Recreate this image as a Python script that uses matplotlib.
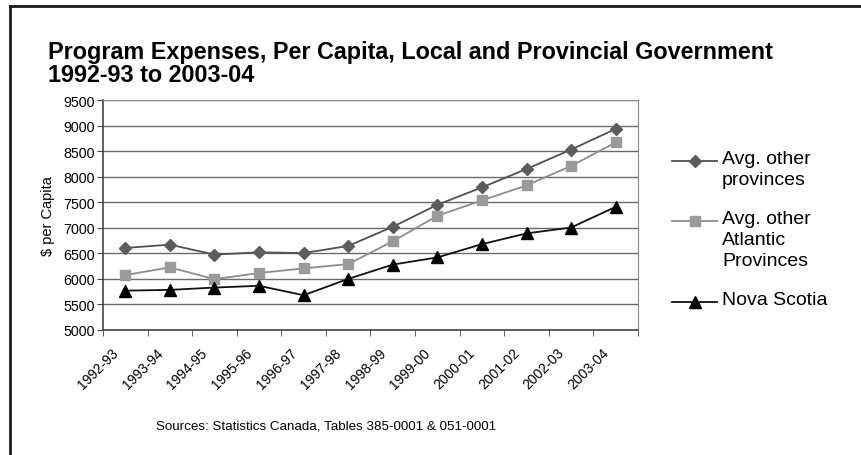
import matplotlib.pyplot as plt
import matplotlib.transforms as mtransforms
from matplotlib.lines import Line2D
import numpy as np

plt.rcParams["font.family"] = ["Liberation Sans", "DejaVu Sans"]

years = ["1992-93", "1993-94", "1994-95", "1995-96", "1996-97", "1997-98",
         "1998-99", "1999-00", "2000-01", "2001-02", "2002-03", "2003-04"]
other_prov = [6605, 6670, 6475, 6520, 6505, 6645, 7020, 7450, 7790, 8150, 8530, 8935]
atlantic = [6075, 6225, 5995, 6115, 6205, 6290, 6735, 7235, 7535, 7830, 8210, 8670]
nova_scotia = [5770, 5785, 5830, 5865, 5680, 6000, 6280, 6420, 6680, 6890, 7005, 7410]

series = [
    ("Avg. other\nprovinces", other_prov, "#505050", "#5c5c5c", "D", 6.5),
    ("Avg. other\nAtlantic\nProvinces", atlantic, "#8c8c8c", "#9a9a9a", "s", 7),
    ("Nova Scotia", nova_scotia, "#111111", "#000000", "^", 8),
]

fig = plt.figure(figsize=(8.62, 4.56), dpi=100)
ax = fig.add_axes([103 / 862, 125 / 456, 535 / 862, 230 / 456])

x = np.arange(len(years))
for label, vals, lc, mc, mk, ms in series:
    ax.plot(x, vals, color=lc, lw=1.3, marker=mk, ms=ms,
            markerfacecolor=mc, markeredgecolor=mc, zorder=3)

ax.set_xlim(-0.5, len(years) - 0.5)
ax.set_ylim(5000, 9500)
ax.set_yticks(np.arange(5000, 9501, 500))
ax.yaxis.grid(True, color="#6a6a6a", lw=1)
ax.set_axisbelow(True)

ax.set_xticks(x)
ax.set_xticks(np.arange(-0.5, len(years), 1), minor=True)
ax.set_xticklabels(years, rotation=45, ha="right", va="top", rotation_mode="anchor")
ax.tick_params(axis="x", which="major", length=0, labelsize=10, pad=6)
ax.tick_params(axis="x", which="minor", length=4, color="#444444")
ax.tick_params(axis="y", length=4, labelsize=10.3, color="#444444", pad=2)
offset = mtransforms.ScaledTranslation(-14 / 100, -7 / 100, fig.dpi_scale_trans)
for lab in ax.get_xticklabels():
    lab.set_transform(lab.get_transform() + offset)

for side in ["top", "right"]:
    ax.spines[side].set_color("#888888")
for side in ["left", "bottom"]:
    ax.spines[side].set_color("#444444")
    ax.spines[side].set_linewidth(1.2)

ax.set_ylabel("$ per Capita", fontsize=10.5, labelpad=6)

fig.text(48 / 862, 1 - 64 / 456, "Program Expenses, Per Capita, Local and Provincial Government\n1992-93 to 2003-04",
         fontsize=16.8, fontweight="bold", va="center", ha="left", linespacing=0.98)

fig.text(326 / 862, 1 - 427 / 456, "Sources: Statistics Canada, Tables 385-0001 & 051-0001",
         fontsize=9.6, ha="center", va="center")

# manual legend (handle aligned to first text line)
leg_y = [162, 222, 303]
for (label, vals, lc, mc, mk, ms), yy in zip(series, leg_y):
    yf = 1 - yy / 456
    fig.add_artist(Line2D([672 / 862, 717 / 862], [yf, yf], transform=fig.transFigure,
                          color=lc, lw=1.3))
    fig.add_artist(Line2D([695 / 862], [yf], transform=fig.transFigure, marker=mk, ms=ms,
                          color=mc, markerfacecolor=mc, markeredgecolor=mc))
    fig.text(722 / 862, 1 - (yy - 11) / 456, label, fontsize=14, ha="left",
             va="top", linespacing=1.32)

# outer frame (top and left edges)
fig.add_artist(Line2D([10 / 862, 1.0], [1 - 7 / 456, 1 - 7 / 456], transform=fig.transFigure,
                      color="#1a1a1a", lw=2))
fig.add_artist(Line2D([10 / 862, 10 / 862], [0, 1 - 7 / 456], transform=fig.transFigure,
                      color="#1a1a1a", lw=2))

fig.savefig("out.png", dpi=100)
